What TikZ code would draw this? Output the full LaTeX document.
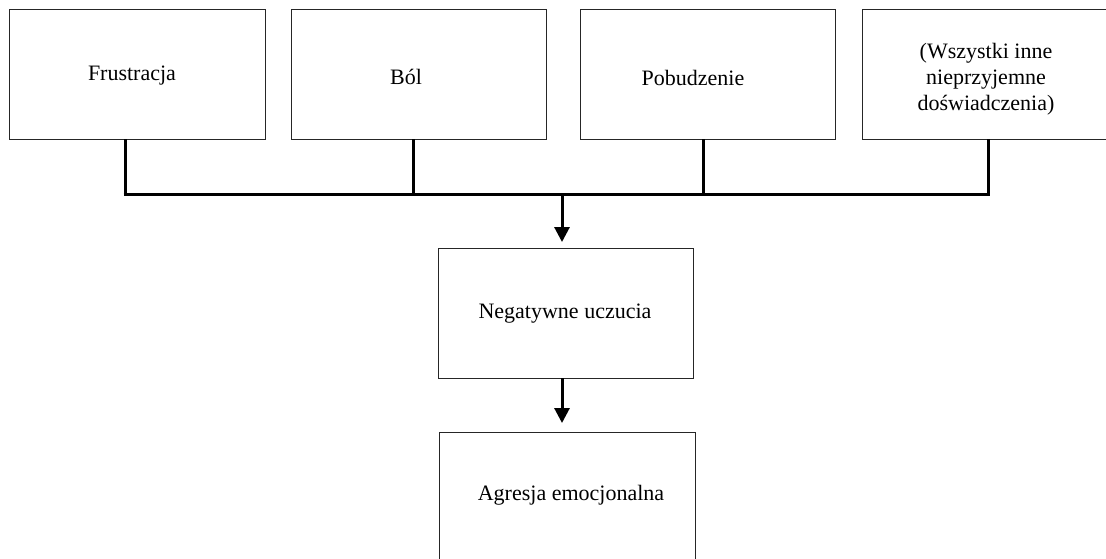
\documentclass[tikz,border=0pt]{standalone}
\usepackage{fontspec}
\setmainfont{Liberation Serif}
\usetikzlibrary{arrows.meta}
\tikzset{
  boxnode/.style={draw=black!85, line width=1pt, minimum width=#1, minimum height=130pt, inner sep=0pt, outer sep=0pt},
  lbl/.style={font=\fontsize{22}{26}\selectfont, align=center, inner sep=0pt},
  conn/.style={line width=3pt},
  arr/.style={line width=3pt, -{Triangle[width=15pt,length=15pt]}}
}
\begin{document}
\begin{tikzpicture}[x=1pt,y=-1pt]
\clip (0,0) rectangle (1106,558);
\fill[white] (0,0) rectangle (1106,558);
% boxes
\node[boxnode=256pt] (b1) at (137,74) {};
\node[boxnode=255pt] (b2) at (418.5,74) {};
\node[boxnode=255pt] (b3) at (707.5,74) {};
\node[boxnode=248pt] (b4) at (986,74) {};
\node[boxnode=255pt] (m) at (565.5,313) {};
\node[boxnode=256pt] (e) at (567,497) {};
% labels
\node[lbl] (t1) at (132,76) {Frustracja};
\node[lbl] (t2) at (406,77) {Ból};
\node[lbl] (t3) at (693,78) {Pobudzenie};
\node[lbl] (t4) at (986,79) {(Wszystki inne\\nieprzyjemne\\doświadczenia)};
\node[lbl] (tm) at (565,314) {Negatywne uczucia};
\node[lbl] (te) at (571,495) {Agresja emocjonalna};
% junction coordinates
\coordinate (j1) at (125,194);
\coordinate (j2) at (413,194);
\coordinate (j3) at (703,194);
\coordinate (j4) at (988,194);
\coordinate (jm) at (562,194);
% connectors
\draw[conn] (j1 |- b1.south) -- (j1);
\draw[conn] (j2 |- b2.south) -- (j2);
\draw[conn] (j3 |- b3.south) -- (j3);
\draw[conn] (j4 |- b4.south) -- (j4);
\draw[conn] ([xshift=-1.5pt]j1) -- ([xshift=1.5pt]j4);
\draw[arr, shorten >=6pt] (jm) -- (jm |- m.north);
\draw[arr, shorten >=9pt] (jm |- m.south) -- (jm |- e.north);
\end{tikzpicture}
\end{document}
